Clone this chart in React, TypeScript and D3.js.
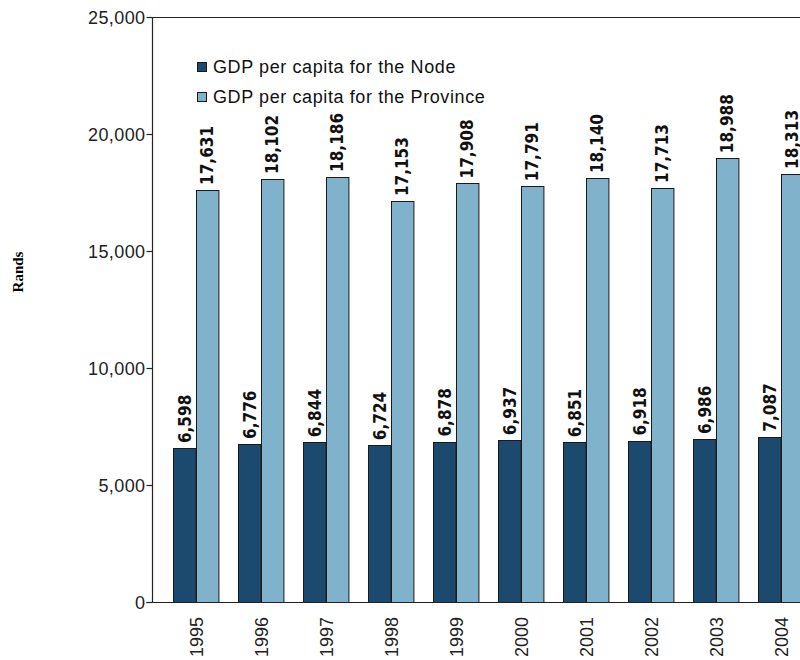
import React from "react";
import * as d3 from "d3";

const years = ["1995","1996","1997","1998","1999","2000","2001","2002","2003","2004"];
const nodeValues = [6598, 6776, 6844, 6724, 6878, 6937, 6851, 6918, 6986, 7087];
const provinceValues = [17631, 18102, 18186, 17153, 17908, 17791, 18140, 17713, 18988, 18313];
const yTicks = [0, 5000, 10000, 15000, 20000, 25000];
const seriesNames = ["GDP per capita for the Node", "GDP per capita for the Province"];
const seriesColors = ["#1b4a6e", "#80b3cb"];

export default function App() {
  const W = 800, H = 660;
  const axisX = 152.5, top = 17.5, bottom = 602.5;
  const y = d3.scaleLinear().domain([0, 25000]).range([bottom, top]);
  const x = d3.scaleBand<string>().domain(years).range([163, 813]).paddingInner(0.31).paddingOuter(0.155);
  const inner = d3.scaleBand<number>().domain([0, 1]).range([0, x.bandwidth()]);
  const fmt = d3.format(",");
  const series = [nodeValues, provinceValues];
  const labelFont = "'DejaVu Sans Condensed', 'DejaVu Sans', sans-serif";
  const axisFont = "'Liberation Sans', Arial, sans-serif";
  return (
    <svg width={W} height={H} style={{ position: "absolute", left: 0, top: 0, background: "#fff" }}>
      <rect x={0} y={0} width={W} height={H} fill="#fff" />
      {series.map((vals, si) =>
        vals.map((v, i) => (
          <rect key={`b${si}-${i}`}
            x={Math.round(x(years[i])! + inner(si)!) + 0.5}
            y={Math.round(y(v)) + 0.5}
            width={inner.bandwidth()}
            height={bottom - Math.round(y(v)) - 0.5}
            fill={seriesColors[si]} stroke="#1a1a1a" strokeWidth={1} />
        ))
      )}
      {series.map((vals, si) =>
        vals.map((v, i) => {
          const cx = x(years[i])! + inner(si)! + inner.bandwidth() / 2 + 0.5;
          const ty = y(v) - 5;
          return (
            <text key={`l${si}-${i}`} transform={`translate(${cx},${ty}) rotate(-90)`}
              dominantBaseline="central" fontFamily={labelFont} fontWeight="bold" fontSize={17}
              fill="#111">{fmt(v)}</text>
          );
        })
      )}
      <line x1={axisX} x2={W} y1={top} y2={top} stroke="#222" strokeWidth={1.2} />
      <line x1={axisX} x2={axisX} y1={top} y2={bottom} stroke="#222" strokeWidth={1.2} />
      <line x1={axisX - 6} x2={W} y1={bottom} y2={bottom} stroke="#222" strokeWidth={1.2} />
      {yTicks.map(t => (
        <g key={`t${t}`}>
          <line x1={axisX - 6} x2={axisX} y1={y(t)} y2={y(t)} stroke="#222" strokeWidth={1.2} />
          <text x={axisX - 7} y={y(t)} textAnchor="end" dominantBaseline="central" letterSpacing={0.4}
            fontFamily={axisFont} fontSize={18} fill="#222">{fmt(t)}</text>
        </g>
      ))}
      {years.map(yr => (
        <text key={`x${yr}`} transform={`translate(${x(yr)! + x.bandwidth() / 2 + 1},${617}) rotate(-90)`}
          textAnchor="end" dominantBaseline="central"
          fontFamily={axisFont} fontSize={18} fill="#222">{yr}</text>
      ))}
      <text transform={`translate(18,272) rotate(-90)`} textAnchor="middle" dominantBaseline="central"
        fontFamily="'Liberation Serif', 'Times New Roman', serif" fontWeight="bold" fontSize={15} fill="#000">Rands</text>
      {seriesNames.map((n, i) => (
        <g key={`lg${i}`}>
          <rect x={197.5} y={62.5 + i * 30} width={9} height={9} fill={seriesColors[i]} stroke="#1a1a1a" strokeWidth={1} />
          <text x={213} y={67 + i * 30} dominantBaseline="central" letterSpacing={0.6}
            fontFamily={axisFont} fontSize={18} fill="#111">{n}</text>
        </g>
      ))}
    </svg>
  );
}
